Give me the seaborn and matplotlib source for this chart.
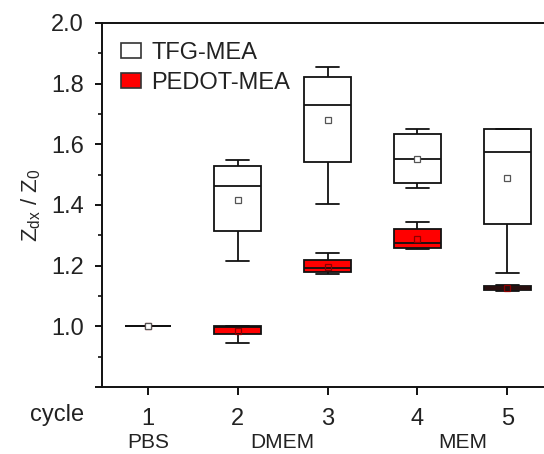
import numpy as np
import pandas as pd
import matplotlib
matplotlib.use("Agg")
import matplotlib.pyplot as plt
import matplotlib.transforms as mtransforms
from matplotlib.patches import Patch
import seaborn as sns

# five-number summaries: [min, q1, median, q3, max]
cycles = [1, 2, 3, 4, 5]
tfg_boxes = [
    [1.000, 1.000, 1.000, 1.000, 1.000],
    [1.215, 1.314, 1.463, 1.529, 1.548],
    [1.403, 1.542, 1.730, 1.822, 1.855],
    [1.456, 1.472, 1.552, 1.634, 1.650],
    [1.176, 1.337, 1.575, 1.650, 1.650],
]
pedot_boxes = [
    [1.000, 1.000, 1.000, 1.000, 1.000],
    [0.945, 0.974, 0.998, 1.000, 1.000],
    [1.172, 1.179, 1.193, 1.219, 1.242],
    [1.255, 1.258, 1.275, 1.321, 1.344],
    [1.118, 1.119, 1.126, 1.134, 1.137],
]
tfg_mean = [1.000, 1.416, 1.680, 1.552, 1.489]
pedot_mean = [1.000, 0.985, 1.196, 1.288, 1.126]
media = ["PBS", "DMEM", "MEM"]
media_pos = [1.0, 2.5, 4.5]
groups = ["PEDOT-MEA", "TFG-MEA"]

rows = []
for name, boxes in zip(["TFG-MEA", "PEDOT-MEA"], [tfg_boxes, pedot_boxes]):
    for c, vals in zip(cycles, boxes):
        for v in vals:
            rows.append({"cycle": c, "ratio": v, "group": name})
df = pd.DataFrame(rows)

sns.set_style("ticks")
plt.rcParams["font.family"] = ["Liberation Sans", "DejaVu Sans"]
plt.rcParams["mathtext.fontset"] = "custom"
plt.rcParams["mathtext.rm"] = "Liberation Sans"
plt.rcParams["text.color"] = "#222222"
plt.rcParams["xtick.color"] = "#111111"
plt.rcParams["ytick.color"] = "#111111"
plt.rcParams["xtick.labelcolor"] = "#222222"
plt.rcParams["ytick.labelcolor"] = "#222222"

fig = plt.figure(figsize=(5.44, 4.54), dpi=100)
ax = fig.add_axes([0.1875, 0.1476, 0.8125, 0.8018])

palette = {"TFG-MEA": "white", "PEDOT-MEA": "#ff0000"}
sns.boxplot(data=df, x="cycle", y="ratio", hue="group", hue_order=groups,
            dodge=False, native_scale=True, whis=(0, 100), width=0.52,
            palette=palette, linecolor="#111111", linewidth=1.3,
            saturation=1, legend=False, ax=ax)

ax.plot(cycles, pedot_mean, ls="none", marker="s", ms=4.5, mfc="none",
        mec="#8b0000", mew=0.9, zorder=5)
ax.plot(cycles, tfg_mean, ls="none", marker="s", ms=4.5, mfc="white",
        mec="#555555", mew=0.9, zorder=5)

ax.set_xlim(0.4875, 5.41)
ax.set_ylim(0.8, 2.0)
ax.set_xticks(cycles)
ax.set_xticklabels([str(c) for c in cycles])
yt = np.round(np.arange(0.8, 2.01, 0.2), 1)
ax.set_yticks(yt)
ax.set_yticklabels([""] + [f"{v:.1f}" for v in yt[1:]])
ax.set_yticks(np.round(np.arange(0.9, 2.0, 0.2), 1), minor=True)
ax.tick_params(axis="y", which="major", length=5, width=1.4, labelsize=17, pad=8)
ax.tick_params(axis="y", which="minor", length=3, width=1.2)
ax.tick_params(axis="x", length=6, width=1.4, labelsize=17, pad=9)
ax.set_xlabel("")
ax.set_ylabel(r"Z$_{\mathregular{dx}}$ / Z$_{\mathregular{0}}$", fontsize=16, labelpad=6)
for s in ["left", "bottom", "top"]:
    ax.spines[s].set_linewidth(1.4)
    ax.spines[s].set_color("#111111")
ax.spines["right"].set_visible(False)

handles = [Patch(facecolor="white", edgecolor="#333333", linewidth=1.2, label="TFG-MEA"),
           Patch(facecolor="#ff0000", edgecolor="#333333", linewidth=1.2, label="PEDOT-MEA")]
ax.legend(handles=handles, loc="upper left", bbox_to_anchor=(0.0, 1.0), frameon=False,
          fontsize=17, handlelength=0.85, handleheight=0.6, handletextpad=0.45,
          labelspacing=0.35, borderaxespad=0.4)

fig.text(57 / 544, 1 - 415 / 454, "cycle", ha="center", va="center", fontsize=17)
trans = mtransforms.blended_transform_factory(ax.transData, fig.transFigure)
for m, xp in zip(media, media_pos):
    ax.text(xp, 1 - 443 / 454, m, transform=trans, ha="center", va="center",
            fontsize=15, clip_on=False)

fig.savefig("out.png", dpi=100)
